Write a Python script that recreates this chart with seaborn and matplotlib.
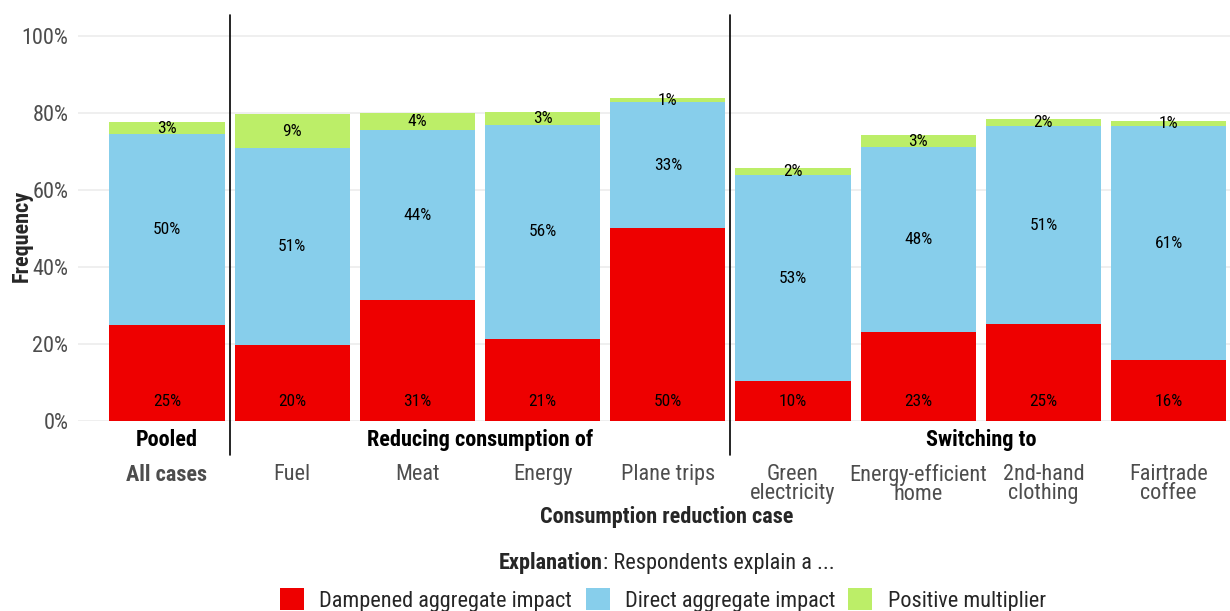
import numpy as np
import pandas as pd
import seaborn as sns
import matplotlib.pyplot as plt
from matplotlib import font_manager
from matplotlib.patches import Patch

# values (percent of respondents)
cases = ["All cases", "Fuel", "Meat", "Energy", "Plane trips",
         "Green\nelectricity", "Energy-efficient\nhome", "2nd-hand\nclothing", "Fairtrade\ncoffee"]
dampened = [24.9, 19.7, 31.4, 21.4, 50.1, 10.4, 23.1, 25.2, 15.8]
direct = [49.6, 51.2, 44.2, 55.6, 32.8, 53.4, 48.1, 51.4, 60.8]
positive = [3.2, 8.8, 4.4, 3.4, 1.0, 2.0, 3.1, 1.8, 1.3]
groups = ["Pooled", "Reducing consumption of", "Switching to"]
group_span = [(0, 0), (1, 4), (5, 8)]
series = ["Dampened aggregate impact", "Direct aggregate impact", "Positive multiplier"]
colors = ["#EE0000", "#87CEEB", "#BCEE68"]

sns.set_theme(style="white")
names = {f.name for f in font_manager.fontManager.ttflist}
family = "Roboto Condensed" if "Roboto Condensed" in names else "Roboto"
plt.rcParams["font.family"] = [family, "DejaVu Sans"]

df = pd.DataFrame({"case": cases, "dampened": dampened, "direct": direct, "positive": positive})
df["b2"] = df["dampened"] + df["direct"]

fig = plt.figure(figsize=(12.3, 6.11), dpi=100)
ax = fig.add_axes([78 / 1230, 190 / 611, 1152 / 1230, 406 / 611])

bar_kw = dict(saturation=1, width=0.92, linewidth=0, edgecolor="none", ax=ax)
sns.barplot(data=df, x="case", y="dampened", color=colors[0], **bar_kw)
sns.barplot(data=df, x="case", y="direct", bottom=df["dampened"], color=colors[1], **bar_kw)
sns.barplot(data=df, x="case", y="positive", bottom=df["b2"], color=colors[2], **bar_kw)

lab_kw = dict(ha="center", va="center", fontsize=12.5, color="black")
for i, row in df.iterrows():
    ax.text(i, 5, f"{row.dampened:.0f}%", **lab_kw)
    ax.text(i, row.dampened + row.direct / 2, f"{row.direct:.0f}%", **lab_kw)
    ax.text(i, row.b2 + row.positive / 2, f"{row.positive:.0f}%", **lab_kw)

ax.set_xlim(-0.71, 8.49)
ax.set_ylim(0, 105.5)
ax.set_yticks([0, 20, 40, 60, 80, 100])
ax.set_yticklabels([f"{v}%" for v in [0, 20, 40, 60, 80, 100]])
ax.yaxis.grid(True, color="#ebebeb", lw=1.1)
ax.set_axisbelow(True)
for s in ax.spines.values():
    s.set_visible(False)
ax.tick_params(axis="y", length=0, pad=7, labelsize=16, labelcolor="#4d4d4d")
ax.tick_params(axis="x", length=0, pad=31, labelsize=16, labelcolor="#4d4d4d")
ax.set_xticks(range(len(cases)))
ax.set_xticklabels(cases, linespacing=0.9, va="top")
ax.get_xticklabels()[0].set_fontweight("bold")
ax.set_xlabel("")
ax.set_ylabel("")

# group headers and separators
trans = ax.get_xaxis_transform()
for name, (a, b) in zip(groups, group_span):
    ax.text((a + b) / 2, -0.047, name, transform=trans, ha="center", va="center",
            fontsize=16, fontweight="bold", color="black")
for xs in [0.5, 4.5]:
    ax.plot([xs, xs], [1.0, -0.084], transform=trans, color="black", lw=1.2, clip_on=False)

fig.text(667 / 1230, 1 - 517 / 611, "Consumption reduction case", ha="center", va="center",
         fontsize=16, fontweight="bold")
fig.text(22 / 1230, 1 - 236 / 611, "Frequency", ha="center", va="center", rotation=90,
         fontsize=16, fontweight="bold")

# legend title with bold lead word
fig.canvas.draw()
r = fig.canvas.get_renderer()
ty = 1 - 563 / 611
t1 = fig.text(0, ty, "Explanation", ha="left", va="center", fontsize=16, fontweight="bold")
t2 = fig.text(0, ty, ": Respondents explain a ...", ha="left", va="center", fontsize=16)
w1 = t1.get_window_extent(r).width
w2 = t2.get_window_extent(r).width
x0 = 667 - (w1 + w2) / 2
t1.set_x(x0 / 1230)
t2.set_x((x0 + w1) / 1230)

handles = [Patch(facecolor=c, edgecolor="none") for c in colors]
fig.legend(handles, series, loc="center", bbox_to_anchor=(663 / 1230, 1 - 600 / 611), ncol=3,
           frameon=False, fontsize=16, handlelength=1.08, handleheight=1.08,
           handletextpad=0.68, columnspacing=0.6)

fig.savefig("out.png", dpi=100)
